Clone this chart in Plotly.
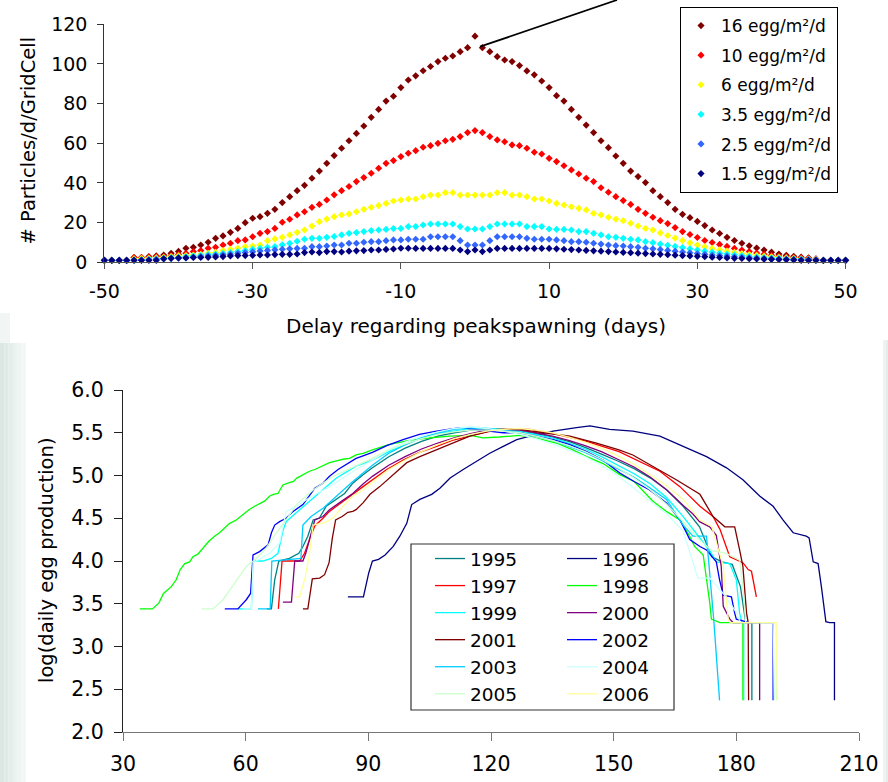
import plotly.graph_objects as go

# ---------------- top chart data ----------------
DELAY_DAYS = list(range(-50, 51))
DELAY_TICKS = [-50, -30, -10, 10, 30, 50]
DELAY_TICK_TEXT = ["-50", "-30", "-10", "10", "30", "50"]
PART_TICKS = [0, 20, 40, 60, 80, 100, 120]

SERIES_NAMES = ["16 egg/m²/d", "10 egg/m²/d", "6 egg/m²/d",
                "3.5 egg/m²/d", "2.5 egg/m²/d", "1.5 egg/m²/d"]

P16 = [1, 1, 1, 1,
       2.4, 2.4, 2.9, 3.2, 3.7, 4.5, 5.5, 7.1, 7.6, 8.7, 10.1, 12.1, 13.3, 15.1, 17.1, 20.0,
       22.2, 23.0, 24.7, 26.7, 30.1, 33.1, 36.1, 38.8, 42.4, 46.0, 49.9, 53.8, 57.5, 61.3,
       65.0, 68.7, 73.1, 77.1, 81.3, 83.7, 88.1, 91.9, 94.0, 96.6, 98.7, 101.2, 102.9, 104.0,
       106.2, 108.2,
       114.0,
       108.2, 106.2, 103.7, 102.0, 101.2, 99.2, 96.5, 94.5, 91.4, 88.1, 84.0, 81.3, 77.1, 73.1,
       69.2, 65.4, 61.3, 57.8, 53.6, 49.9, 46.0, 43.2, 40.2, 36.1, 33.1, 30.1, 26.7, 24.2, 22.5,
       20.6, 18.5, 16.3, 14.5, 12.6, 11.0, 9.6, 8.3, 7.2, 6.2, 5.1, 4.2, 3.5, 3.0, 2.6, 2.2, 1.7,
       1, 1, 1, 1]
P10 = [1, 1, 1, 1,
       2.4, 2.4, 2.6, 2.9, 2.9, 3.4, 3.9, 4.5, 5.4, 5.9, 7.1, 7.6, 8.7, 9.6, 10.9, 11.3, 12.9,
       14.6, 15.5, 17.1, 20.2, 21.7, 23.9, 25.5, 27.7, 29.2, 31.4, 34.0, 36.1, 38.2, 40.7, 42.7,
       44.9, 47.4, 49.9, 51.3, 53.3, 55.0, 56.3, 58.0, 58.8, 60.0, 61.3, 62.0, 63.4, 65.4,
       66.4,
       65.4, 63.4, 61.7, 60.8, 59.2, 58.8, 57.5, 55.5, 54.6, 52.4, 50.8, 48.7, 46.6, 44.5, 42.4,
       40.7, 37.6, 35.3, 33.1, 31.1, 29.2, 26.7, 24.7, 22.7, 21.0, 19.5, 17.5, 15.5, 14.0, 12.5,
       11.0, 10.0, 9.0, 8.0, 7.0, 6.2, 5.4, 4.7, 4.0, 3.5, 3.0, 2.7, 2.4, 2.2, 2.0, 1.6,
       1, 1, 1, 1]
P6 = [1, 1, 1, 1,
      1.7, 2.0, 2.0, 2.2, 2.5, 2.9, 3.2, 3.4, 3.7, 4.0, 4.5, 5.0, 5.9, 6.6, 7.1, 7.9, 8.2, 8.7,
      10.9, 11.8, 12.6, 13.8, 15.1, 16.3, 18.3, 20.5, 21.8, 23.0, 23.9, 24.4, 25.5, 26.7, 27.7,
      28.6, 29.7, 30.9, 31.4, 31.9, 31.9, 33.1, 33.9, 33.9, 35.1, 35.1, 33.9, 33.9,
      33.9,
      33.9, 33.9, 35.1, 35.1, 33.9, 33.9, 33.1, 31.9, 31.9, 30.9, 29.7, 28.9, 28.0, 27.2, 26.4,
      24.7, 23.9, 22.7, 21.8, 21.0, 19.7, 18.3, 17.1, 16.3, 14.8, 13.5, 12.2, 11.0, 9.8, 8.7,
      7.8, 7.0, 6.3, 5.6, 5.0, 4.4, 3.9, 3.5, 3.1, 2.8, 2.5, 2.2, 2.0, 1.8, 1.6, 1.4,
      1, 1, 1, 1]
P35 = [1, 1, 1, 1,
       1.2, 1.3, 1.5, 1.7, 2.0, 2.4, 2.5, 2.9, 3.2, 3.5, 3.9, 4.2, 4.5, 4.9, 5.4, 5.9, 6.6, 7.1,
       7.6, 7.9, 8.8, 9.6, 10.6, 11.6, 12.1, 12.1, 12.6, 13.0, 13.8, 14.6, 15.0, 15.5, 16.0,
       16.3, 16.6, 17.0, 17.1, 18.0, 18.0, 18.8, 19.3, 19.3, 19.3, 19.3, 18.0, 16.8,
       16.8,
       16.8, 18.0, 19.3, 19.3, 19.3, 19.3, 18.0, 18.0, 18.0, 16.8, 16.6, 16.6, 16.3, 15.5, 15.5,
       14.6, 13.8, 12.9, 12.6, 12.1, 11.6, 11.3, 10.4, 9.9, 9.2, 8.6, 8.0, 7.4, 6.8, 6.2, 5.6,
       5.1, 4.6, 4.2, 3.8, 3.4, 3.0, 2.7, 2.4, 2.2, 2.0, 1.8, 1.6, 1.5, 1.4, 1.2,
       1, 1, 1, 1]
P25 = [1, 1, 1, 1,
       1.1, 1.2, 1.3, 1.5, 1.7, 1.9, 2.1, 2.3, 2.6, 2.9, 3.2, 3.5, 3.8, 4.1, 4.5, 4.9, 5.3, 5.7,
       6.0, 6.3, 6.6, 6.8, 7.0, 7.1, 7.9, 7.9, 8.2, 8.7, 8.7, 9.6, 9.6, 10.1, 10.4, 10.4, 10.9,
       11.3, 11.3, 11.6, 11.6, 11.6, 12.9, 12.9, 12.9, 12.9, 10.9, 8.7,
       8.7,
       8.7, 10.9, 12.9, 12.9, 12.9, 12.9, 12.1, 11.6, 11.6, 11.6, 11.3, 10.9, 10.4, 10.4, 10.1,
       9.6, 9.2, 8.7, 8.4, 8.2, 7.9, 7.6, 7.1, 6.8, 6.4, 6.0, 5.6, 5.2, 4.8, 4.4, 4.0, 3.7, 3.4,
       3.1, 2.8, 2.5, 2.3, 2.1, 1.9, 1.7, 1.6, 1.5, 1.4, 1.3, 1.2, 1.1,
       1, 1, 1, 1]
P15 = [1, 1, 1, 1, 1, 1, 1, 1,
       1.8, 2.0, 2.2, 2.2, 2.4, 2.4, 2.5, 2.7, 2.9, 3.2, 3.4, 3.4, 3.5, 3.7, 3.7, 3.9, 4.0, 4.0,
       4.2, 4.9, 5.2, 4.9, 5.4, 5.4, 5.2, 5.6, 5.8, 5.9, 6.2, 6.2, 6.5, 6.7, 7.1, 7.1, 7.0, 7.0,
       7.0, 7.0, 7.0, 7.0, 6.2, 5.4,
       6.2,
       5.4, 6.2, 7.0, 7.0, 7.0, 7.0, 7.0, 7.0, 7.0, 7.0, 6.8, 6.6, 6.4, 6.2, 6.0, 5.8, 5.6, 5.4,
       5.2, 5.0, 4.8, 4.6, 4.4, 4.2, 4.0, 3.8, 3.6, 3.4, 3.2, 3.0, 2.8, 2.6, 2.4, 2.2, 2.0, 1.9,
       1.8, 1.7, 1.6, 1.5, 1.4, 1.3, 1.2,
       1, 1, 1, 1, 1, 1, 1]
TOP_SERIES = [P16, P10, P6, P35, P25, P15]
TOP_COLORS = ["#800000", "#FF0000", "#FFFF00", "#00FFFF", "#3366FF", "#000080"]

# ---------------- bottom chart data ----------------
DOY_TICKS = [30, 60, 90, 120, 150, 180, 210]
LOG_TICKS = [2.0, 2.5, 3.0, 3.5, 4.0, 4.5, 5.0, 5.5, 6.0]

Y1995_D = [65.2, 66.3, 67.1, 68.1, 70.7, 73.0, 74.0, 75.2, 76.5, 78.0, 79.7, 82.2, 84.2, 86.2, 88.7,
           91.0, 95, 99, 103, 107, 111, 115, 119, 123, 127, 131, 135, 139, 143, 147, 151, 155, 159,
           163, 167, 171, 174, 176.5, 179, 181, 182.3, 183.8, 183.8]
Y1995_V = [3.44, 3.44, 3.78, 4.00, 4.03, 4.09, 4.17, 4.29, 4.48, 4.50, 4.64, 4.72, 4.79, 4.91, 5.01,
           5.09, 5.22, 5.32, 5.40, 5.46, 5.50, 5.53, 5.54, 5.54, 5.52, 5.49, 5.45, 5.40, 5.33, 5.25,
           5.17, 5.08, 4.97, 4.83, 4.64, 4.40, 4.05, 3.99, 3.96, 3.70, 3.28, 3.28, 2.37]
Y1996_D = [85.0, 88.8, 90.1, 91.0, 92.5, 94.1, 96.1, 97.7, 99.4, 100.6, 102.6, 105.5, 107.5, 110.0,
           113.2, 116.5, 119.7, 123.0, 126.3, 129.5, 135.2, 140.9, 144.2, 149.0, 154.7, 161.3,
           167.0, 172.7, 177.6, 181.6, 185.7, 189.0, 191.4, 193.9, 197.1, 197.8, 198.8, 200.0,
           200.8, 201.9, 202.8, 204.0, 204.0]
Y1996_V = [3.58, 3.58, 3.86, 4.00, 4.02, 4.07, 4.17, 4.29, 4.44, 4.66, 4.72, 4.78, 4.85, 4.97, 5.07,
           5.17, 5.26, 5.34, 5.42, 5.46, 5.52, 5.56, 5.58, 5.54, 5.52, 5.46, 5.34, 5.22, 5.09, 4.95,
           4.76, 4.64, 4.48, 4.33, 4.29, 4.27, 3.99, 3.97, 3.70, 3.29, 3.28, 3.28, 2.37]
Y1997_D = [68.0, 68.9, 73.2, 74.4, 76.0, 76.9, 78.9, 80.5, 82.2, 83.8, 86.2, 88.7, 91.0, 94.5, 98.5,
           102.5, 106.7, 110.5, 114.8, 119, 123.0, 129.5, 136.0, 143.4, 151.3, 154.7, 161.3, 166.2,
           171.1, 174.3, 176.0, 178.4, 181.6, 182.9, 183.7, 184.9]
Y1997_V = [3.44, 4.00, 4.00, 4.09, 4.30, 4.41, 4.50, 4.58, 4.64, 4.70, 4.78, 4.87, 4.95, 5.07, 5.18,
           5.27, 5.34, 5.41, 5.46, 5.51, 5.54, 5.54, 5.48, 5.40, 5.28, 5.20, 5.05, 4.87, 4.64, 4.52,
           4.37, 4.05, 3.98, 3.90, 3.88, 3.58]
Y1998_D = [34.1, 37.2, 38.8, 39.9, 41.8, 43.0, 44.0, 45.1, 46.3, 47.1, 48.3, 49.8, 51.0, 52.4, 53.6,
           54.9, 56.1, 57.7, 59.2, 60.8, 62.2, 63.6, 64.6, 65.9, 66.8, 67.9, 69.1, 70.3, 71.7, 72.5,
           74.0, 75.6, 76.9, 78.9, 80.5, 82.2, 83.8, 85.4, 87.0, 88.7, 91.0, 95, 100, 105, 110, 115,
           118, 122, 127, 130, 136, 140, 143.4, 147.4, 151.5, 155, 159.6, 162.9, 166.2, 168.6,
           169.8, 171.9, 172.8, 173.5, 173.9, 176.0, 181.6, 181.6]
Y1998_V = [3.44, 3.44, 3.51, 3.62, 3.70, 3.78, 3.90, 3.97, 3.99, 4.05, 4.08, 4.17, 4.23, 4.29, 4.33,
           4.39, 4.44, 4.48, 4.54, 4.60, 4.64, 4.67, 4.70, 4.76, 4.78, 4.79, 4.89, 4.91, 4.93, 4.97,
           5.01, 5.05, 5.07, 5.11, 5.15, 5.17, 5.19, 5.20, 5.24, 5.26, 5.30, 5.36, 5.41, 5.44, 5.46,
           5.47, 5.44, 5.45, 5.47, 5.45, 5.38, 5.30, 5.22, 5.14, 5.01, 4.93, 4.70, 4.58, 4.48, 4.29,
           4.17, 4.07, 3.78, 3.51, 3.32, 3.28, 3.28, 2.37]
Y1999_D = [58.0, 61.4, 61.8, 64.2, 66.3, 67.9, 69.1, 69.9, 72, 75.6, 78.9, 82.2, 87.0, 91.0, 95, 99,
           103, 107, 111, 115, 119, 123, 127, 131, 135, 139, 143, 147, 151, 155, 159, 163, 167, 171,
           173.5, 175.1, 178.4, 180.0, 180.8, 181.4, 181.8, 181.8]
Y1999_V = [3.44, 3.44, 4.00, 4.00, 4.03, 4.09, 4.35, 4.46, 4.55, 4.70, 4.83, 4.97, 5.11, 5.18, 5.28,
           5.36, 5.44, 5.49, 5.52, 5.55, 5.55, 5.54, 5.52, 5.48, 5.44, 5.38, 5.31, 5.22, 5.12, 5.02,
           4.90, 4.74, 4.52, 4.28, 4.12, 3.99, 3.97, 3.78, 3.39, 3.28, 3.28, 2.37]
Y2000_D = [69.1, 71.2, 72.0, 74.0, 74.7, 76.9, 78.9, 80.5, 83.5, 86.2, 88.7, 91.0, 95, 99, 103, 107,
           111, 115, 119, 123, 127, 131, 135, 139, 143, 147, 151, 155, 159, 163, 167, 169.4, 171,
           173.5, 175.1, 176.3, 176.8, 178.4, 179.2, 185.7, 185.7]
Y2000_V = [3.52, 3.52, 4.00, 4.00, 4.09, 4.48, 4.52, 4.60, 4.70, 4.79, 4.90, 4.99, 5.12, 5.22, 5.31,
           5.38, 5.44, 5.49, 5.53, 5.54, 5.53, 5.50, 5.46, 5.41, 5.35, 5.28, 5.19, 5.10, 4.98, 4.83,
           4.65, 4.55, 4.46, 4.40, 4.30, 3.94, 3.47, 3.32, 3.28, 3.28, 2.37]
Y2001_D = [74.0, 75.2, 76.3, 78.1, 79.3, 80.4, 81.2, 82.0, 83.6, 85.0, 86.2, 87.0, 88.7, 90.4, 92.8,
           96.1, 99.4, 102.6, 106.7, 110.8, 114.8, 121.4, 127.1, 132.8, 139.3, 145.8, 151.3, 154.7,
           159.6, 165.3, 171.1, 174.3, 177.2, 179.6, 180.8, 181.6, 182.5, 182.9, 183.0]
Y2001_V = [3.44, 3.44, 3.79, 3.80, 3.84, 3.98, 4.27, 4.48, 4.52, 4.57, 4.58, 4.60, 4.68, 4.78, 4.87,
           5.01, 5.15, 5.22, 5.30, 5.38, 5.46, 5.54, 5.54, 5.50, 5.46, 5.38, 5.30, 5.24, 5.11, 4.95,
           4.78, 4.52, 4.40, 4.40, 4.13, 3.94, 3.39, 3.28, 2.37]
Y2002_D = [54.9, 58.1, 60.2, 61.2, 61.8, 63.4, 65.5, 66.3, 67.1, 68.3, 69.9, 71.6, 74.0, 75.6, 76.9,
           78.9, 80.5, 82.6, 84.6, 87.0, 88.7, 91.0, 94.5, 98.5, 102.5, 106.7, 112.4, 117.3, 123.0,
           127.1, 131.1, 135.2, 139.3, 143.4, 147.4, 151.5, 155, 158.8, 162.9, 166.2, 167.8, 168.6,
           171.1, 172.7, 175.1, 175.9, 176.8, 178.8, 179.6, 180.0, 181.6, 182.9, 189.0, 189.0]
Y2002_V = [3.44, 3.44, 3.55, 3.62, 4.07, 4.11, 4.19, 4.33, 4.42, 4.46, 4.50, 4.58, 4.66, 4.76, 4.85,
           4.91, 4.99, 5.07, 5.13, 5.20, 5.23, 5.27, 5.35, 5.42, 5.48, 5.52, 5.56, 5.53, 5.50, 5.50,
           5.46, 5.42, 5.36, 5.28, 5.18, 5.03, 4.93, 4.83, 4.68, 4.48, 4.33, 4.25, 4.17, 4.13, 3.99,
           3.78, 3.60, 3.58, 3.39, 3.32, 3.30, 3.28, 3.28, 2.37]
Y2003_D = [63.0, 66.0, 66.4, 73.5, 74.0, 76, 79, 82, 86, 91, 95, 99, 103, 107, 111, 115, 119, 123,
           127, 131, 135, 139, 143, 147, 151, 155, 159, 162.9, 167, 169.4, 172.7, 173.3, 174.5,
           175.9]
Y2003_V = [3.44, 3.44, 4.00, 4.03, 4.42, 4.52, 4.62, 4.75, 4.92, 5.12, 5.26, 5.36, 5.44, 5.50, 5.54,
           5.56, 5.55, 5.53, 5.50, 5.46, 5.41, 5.34, 5.27, 5.18, 5.08, 4.98, 4.85, 4.72, 4.42, 4.29,
           4.29, 3.94, 3.30, 2.37]
Y2004_D = [59.3, 61.4, 61.8, 65.9, 68.3, 69.9, 72.4, 75.6, 80.5, 87.0, 91.0, 95, 99, 103, 107, 111,
           115, 119, 123, 127, 131, 135, 139, 143, 147, 151, 155, 159, 163, 167, 170.6, 173.5,
           176.8, 180, 181, 189.0, 189.3]
Y2004_V = [3.44, 3.44, 3.98, 4.09, 4.21, 4.58, 4.64, 4.74, 4.87, 5.07, 5.18, 5.30, 5.39, 5.46, 5.51,
           5.55, 5.57, 5.55, 5.52, 5.48, 5.43, 5.37, 5.30, 5.22, 5.12, 5.00, 4.85, 4.70, 4.55, 4.35,
           3.80, 3.80, 3.62, 3.40, 3.28, 3.28, 2.37]
Y2005_D = [49.2, 52.0, 54.5, 56.1, 58.1, 60.2, 62.6, 65.0, 67.5, 69.9, 72.4, 76.5, 81, 87.0, 91.0, 95,
           99, 103, 107, 111, 115, 119, 123, 127, 131, 135, 139, 143, 147, 151, 155, 159, 163, 167,
           171, 174, 177.6, 180.8, 181.6, 182.3, 189.8, 189.8]
Y2005_V = [3.44, 3.44, 3.55, 3.66, 3.80, 3.94, 4.03, 4.15, 4.33, 4.48, 4.66, 4.83, 4.98, 5.11, 5.20,
           5.30, 5.37, 5.43, 5.48, 5.51, 5.53, 5.53, 5.52, 5.50, 5.46, 5.41, 5.35, 5.28, 5.19, 5.09,
           4.97, 4.83, 4.66, 4.46, 4.25, 4.12, 4.09, 4.01, 3.70, 3.28, 3.28, 2.37]
Y2006_D = [72.0, 73.2, 74.5, 75.5, 76.5, 79.3, 81.3, 83.8, 86.2, 88.7, 91.0, 95, 99, 103, 107, 111,
           115, 119, 123, 127, 131, 135, 139, 143, 147, 151, 155, 159, 163, 167, 171.1, 174, 176.8,
           178.0, 178.4, 189.8, 190.0]
Y2006_V = [3.58, 3.58, 3.80, 4.05, 4.42, 4.45, 4.50, 4.64, 4.76, 4.83, 4.92, 5.07, 5.18, 5.28, 5.36,
           5.43, 5.48, 5.52, 5.54, 5.55, 5.53, 5.50, 5.45, 5.39, 5.32, 5.23, 5.13, 5.01, 4.88, 4.72,
           4.48, 4.40, 3.94, 3.33, 3.28, 3.28, 2.37]

YEARS = ["1995", "1996", "1997", "1998", "1999", "2000",
         "2001", "2002", "2003", "2004", "2005", "2006"]
YEAR_DAYS = [Y1995_D, Y1996_D, Y1997_D, Y1998_D, Y1999_D, Y2000_D,
             Y2001_D, Y2002_D, Y2003_D, Y2004_D, Y2005_D, Y2006_D]
YEAR_VALS = [Y1995_V, Y1996_V, Y1997_V, Y1998_V, Y1999_V, Y2000_V,
             Y2001_V, Y2002_V, Y2003_V, Y2004_V, Y2005_V, Y2006_V]
YEAR_COLORS = ["#008080", "#000080", "#FF0000", "#00FF00", "#00FFFF", "#800080",
               "#800000", "#0000FF", "#00CCFF", "#CCFFFF", "#CCFFCC", "#FFFF99"]

for s in TOP_SERIES:
    assert len(s) == len(DELAY_DAYS), len(s)
for d, v in zip(YEAR_DAYS, YEAR_VALS):
    assert len(d) == len(v), (len(d), len(v))

# ---------------- figure ----------------
W, H = 888, 782
FONT = "DejaVu Sans, Verdana, Arial, sans-serif"

fig = go.Figure()

for name, vals, col in zip(SERIES_NAMES, TOP_SERIES, TOP_COLORS):
    fig.add_trace(go.Scatter(
        x=DELAY_DAYS, y=vals, name=name, mode="markers",
        marker=dict(symbol="diamond", size=5.5, color=col, line=dict(width=0)),
        xaxis="x", yaxis="y", legend="legend", legendgroup=name, cliponaxis=False))

for i, (yr, dd, vv, col) in enumerate(zip(YEARS, YEAR_DAYS, YEAR_VALS, YEAR_COLORS)):
    fig.add_trace(go.Scatter(
        x=dd, y=vv, name=yr, mode="lines",
        line=dict(color=col, width=1.3),
        xaxis="x2", yaxis="y2", legend="legend2" if i % 2 == 0 else "legend3",
        cliponaxis=False))


def px_x(p):
    return p / W


def px_y(p):
    return 1 - p / H


axis_common = dict(showgrid=False, zeroline=False, showline=True, ticks="outside",
                   mirror=False, automargin=False)

fig.update_layout(
    width=W, height=H, autosize=False,
    margin=dict(l=0, r=0, t=0, b=0, pad=0, autoexpand=False),
    paper_bgcolor="white", plot_bgcolor="white",
    font=dict(family=FONT, color="black"),
    showlegend=True,
    xaxis=dict(domain=[px_x(104.4), px_x(845.6)], anchor="y", range=[-50, 50],
               tickvals=DELAY_TICKS, ticktext=DELAY_TICK_TEXT,
               linecolor="#555555", linewidth=1.3, tickcolor="#555555", ticklen=6,
               tickfont=dict(size=19, family=FONT), ticklabelstandoff=6, **axis_common),
    yaxis=dict(domain=[px_y(262.3), px_y(24.3)], anchor="x", range=[0, 120],
               tickvals=PART_TICKS,
               linecolor="#333333", linewidth=1.3, tickcolor="#333333", ticklen=6,
               tickfont=dict(size=19, family=FONT), ticklabelstandoff=6, **axis_common),
    xaxis2=dict(domain=[px_x(123), px_x(859)], anchor="y2", range=[30, 210],
                tickvals=DOY_TICKS,
                linecolor="#777777", linewidth=1.3, tickcolor="#777777", ticklen=8,
                tickfont=dict(size=20.5, family=FONT), ticklabelstandoff=5, **axis_common),
    yaxis2=dict(domain=[px_y(732), px_y(390)], anchor="x2", range=[2, 6],
                tickvals=LOG_TICKS, tickformat=".1f",
                linecolor="#222222", linewidth=1.3, tickcolor="#222222", ticklen=8,
                tickfont=dict(size=20.5, family=FONT), ticklabelstandoff=6, **axis_common),
    legend=dict(x=px_x(680), y=px_y(7), xanchor="left", yanchor="top",
                bordercolor="black", borderwidth=1, bgcolor="white",
                font=dict(size=17, family=FONT), tracegroupgap=4.5, itemsizing="trace"),
    legend2=dict(x=px_x(430), y=px_y(540), xanchor="left", yanchor="top",
                 borderwidth=0, bgcolor="rgba(0,0,0,0)", tracegroupgap=0,
                 font=dict(size=18.5, family=FONT)),
    legend3=dict(x=px_x(562), y=px_y(540), xanchor="left", yanchor="top",
                 borderwidth=0, bgcolor="rgba(0,0,0,0)", tracegroupgap=0,
                 font=dict(size=18.5, family=FONT)),
)

# background strips (slide decoration)
shapes = []
LEFT_STRIP = ["#dbe7e3", "#e0eae7", "#e5eeeb", "#eaf1ef", "#eef4f2", "#f3f7f5"]
sw = 26 / len(LEFT_STRIP)
for i, c in enumerate(LEFT_STRIP):
    shapes.append(dict(type="rect", xref="paper", yref="paper",
                       x0=px_x(i * sw), x1=px_x((i + 1) * sw), y0=0, y1=px_y(343),
                       line=dict(width=0), fillcolor=c, layer="below"))
shapes.append(dict(type="rect", xref="paper", yref="paper",
                   x0=0, x1=px_x(10), y0=px_y(343), y1=px_y(313),
                   line=dict(width=0), fillcolor="#f1f5f3", layer="below"))
RIGHT_STRIP = ["#eef3f1", "#e6eeeb"]
for i, c in enumerate(RIGHT_STRIP):
    shapes.append(dict(type="rect", xref="paper", yref="paper",
                       x0=px_x(883 + i * 2.5), x1=px_x(883 + (i + 1) * 2.5), y0=0, y1=px_y(340),
                       line=dict(width=0), fillcolor=c, layer="below"))
# bottom legend frame
shapes.append(dict(type="rect", xref="paper", yref="paper",
                   x0=px_x(411), x1=px_x(674), y0=px_y(710), y1=px_y(544),
                   line=dict(color="#333333", width=1.2), fillcolor="white", layer="below"))
# pointer line from the peak
shapes.append(dict(type="line", xref="paper", yref="paper",
                   x0=px_x(480), y0=px_y(46.7), x1=px_x(617), y1=1,
                   line=dict(color="black", width=1.8)))
fig.update_layout(shapes=shapes)

fig.update_layout(annotations=[
    dict(text="Delay regarding peakspawning (days)", xref="paper", yref="paper",
         x=px_x(476), y=px_y(326), showarrow=False, font=dict(size=20, family=FONT),
         xanchor="center", yanchor="middle"),
    dict(text="# Particles/d/GridCell", xref="paper", yref="paper",
         x=px_x(28.5), y=px_y(141), showarrow=False, textangle=-90,
         font=dict(size=19.5, family=FONT), xanchor="center", yanchor="middle"),
    dict(text="log(daily egg production)", xref="paper", yref="paper",
         x=px_x(46), y=px_y(560), showarrow=False, textangle=-90,
         font=dict(size=19.5, family=FONT), xanchor="center", yanchor="middle"),
])

fig.write_html("out.html", config={"displayModeBar": False},
               post_script="document.body.style.margin='0px';")
